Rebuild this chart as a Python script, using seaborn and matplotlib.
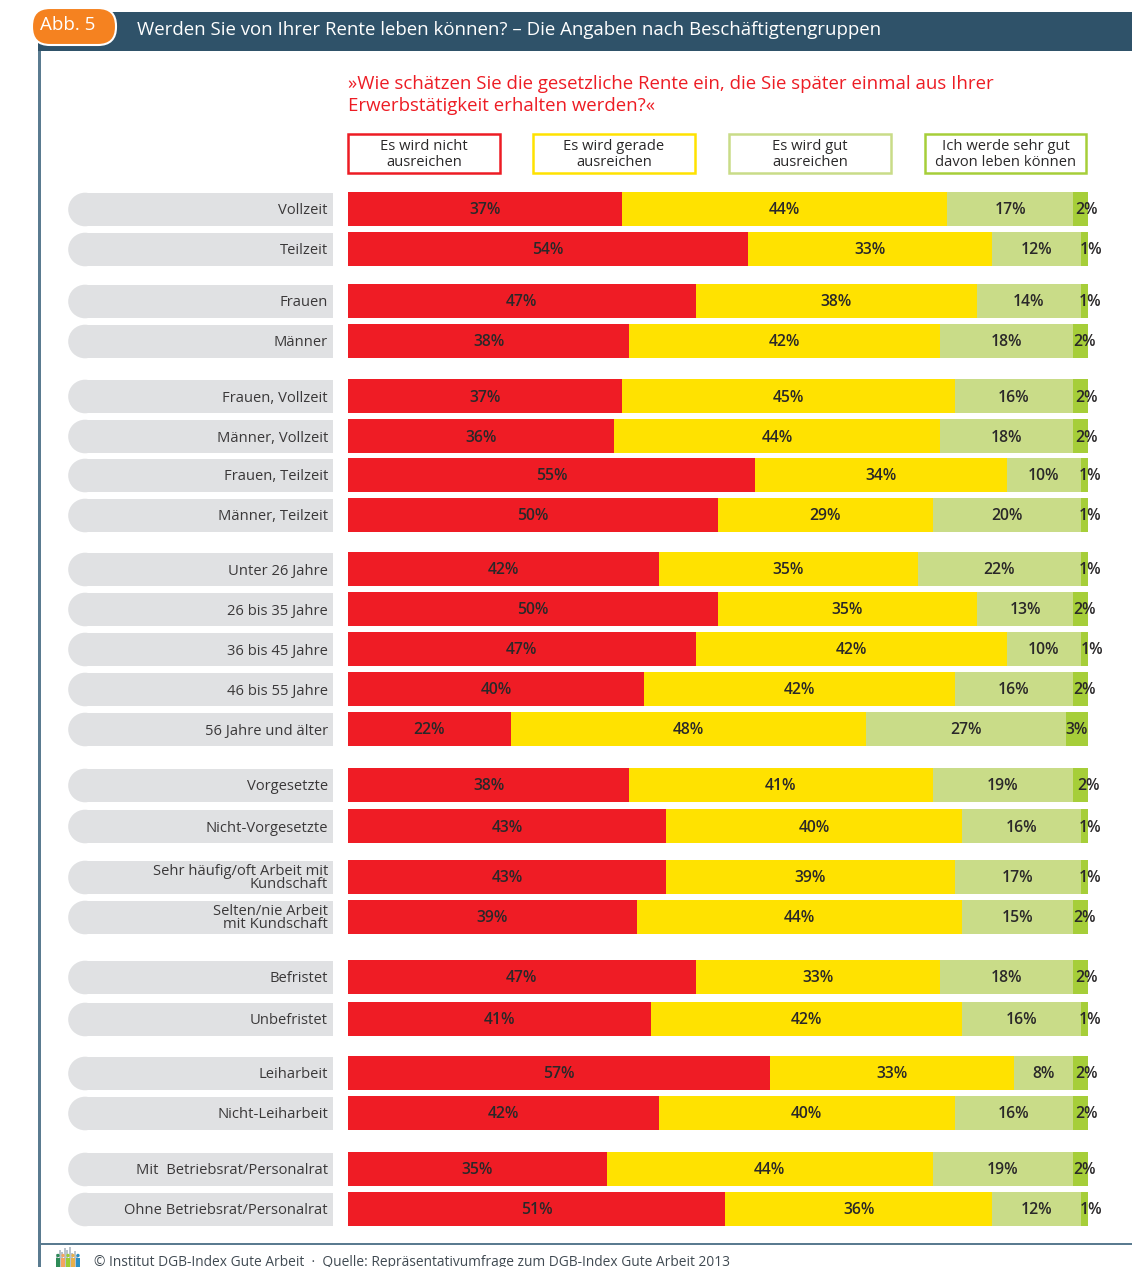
import numpy as np
import pandas as pd
import matplotlib
matplotlib.use("Agg")
import matplotlib.pyplot as plt
from matplotlib.patches import Rectangle, FancyBboxPatch, Circle
import seaborn as sns

FONT = "Open Sans"

categories = ["Vollzeit", "Teilzeit", "Frauen", "Männer", "Frauen, Vollzeit", "Männer, Vollzeit",
              "Frauen, Teilzeit", "Männer, Teilzeit", "Unter 26 Jahre", "26 bis 35 Jahre",
              "36 bis 45 Jahre", "46 bis 55 Jahre", "56 Jahre und älter", "Vorgesetzte",
              "Nicht-Vorgesetzte", "Sehr häufig/oft Arbeit mit\nKundschaft",
              "Selten/nie Arbeit\nmit Kundschaft", "Befristet", "Unbefristet", "Leiharbeit",
              "Nicht-Leiharbeit", "Mit  Betriebsrat/Personalrat", "Ohne Betriebsrat/Personalrat"]
nicht = [37, 54, 47, 38, 37, 36, 55, 50, 42, 50, 47, 40, 22, 38, 43, 43, 39, 47, 41, 57, 42, 35, 51]
gerade = [44, 33, 38, 42, 45, 44, 34, 29, 35, 35, 42, 42, 48, 41, 40, 39, 44, 33, 42, 33, 40, 44, 36]
gut = [17, 12, 14, 18, 16, 18, 10, 20, 22, 13, 10, 16, 27, 19, 16, 17, 15, 18, 16, 8, 16, 19, 12]
sehr_gut = [2, 1, 1, 2, 2, 2, 1, 1, 1, 2, 1, 2, 3, 2, 1, 1, 2, 2, 1, 2, 2, 2, 1]
legend_labels = ["Es wird nicht\nausreichen", "Es wird gerade\nausreichen",
                 "Es wird gut\nausreichen", "Ich werde sehr gut\ndavon leben können"]

# layout (pixels)
row_centers = [209, 249, 301, 341, 396, 436, 475, 515, 569, 609, 649, 689, 729,
               785, 826, 877, 917, 977, 1019, 1073, 1113, 1169, 1209]
last_label_px = [1087, 1091, 1090, 1084, 1086, 1086, 1090, 1090, 1090, 1085, 1092, 1084, 1077,
                 1088, 1090, 1090, 1084, 1087, 1090, 1086, 1087, 1085, 1091]
colors = ["#EF1C25", "#FFE200", "#C9DC88", "#A6CE39"]
INK = "#2A2829"
W, H = 1132, 1267
X0, PX_PER_100 = 348, 740
BAR_H = 34

sns.set_theme(style="white")
plt.rcParams["font.family"] = [FONT, "DejaVu Sans"]

fig = plt.figure(figsize=(W / 100, H / 100), dpi=100, facecolor="white")
bg = fig.add_axes([0, 0, 1, 1], zorder=0)
bg.set_xlim(0, W)
bg.set_ylim(H, 0)
bg.axis("off")

# frame and header
bg.add_patch(Rectangle((38, 48), 2.5, H - 48, color="#5A7B90", lw=0))
bg.add_patch(Rectangle((40, 1242.5), W - 40, 2, color="#5A7B90", lw=0))
bg.add_patch(Rectangle((38, 12), W - 38, 39, color="#2F5269", lw=0))
bg.add_patch(FancyBboxPatch((32, 8), 84, 37, boxstyle="round,pad=0,rounding_size=18",
                            fc="#F58220", ec="white", lw=1.5))
bg.text(67.5, 25.5, "Abb. 5", color="white", fontsize=13.5, ha="center", va="center")
bg.text(137, 30, "Werden Sie von Ihrer Rente leben können? – Die Angaben nach Beschäftigtengruppen",
        color="white", fontsize=13.4, ha="left", va="center")

# question
bg.text(348, 84, "»Wie schätzen Sie die gesetzliche Rente ein, die Sie später einmal aus Ihrer",
        color="#ED1C24", fontsize=13.45, ha="left", va="center")
bg.text(348, 106, "Erwerbstätigkeit erhalten werden?«", color="#ED1C24", fontsize=13.45,
        ha="left", va="center")

# legend
for (x1, x2), c, lab in zip([(348, 500), (533, 695), (729, 891), (925, 1086)],
                            ["#ED1C24", "#FFE200", "#C9DC88", "#A6CE39"], legend_labels):
    bg.add_patch(Rectangle((x1, 134), x2 - x1, 39, fc="white", ec=c, lw=1.8))
    a, b = lab.split("\n")
    bg.text((x1 + x2) / 2, 146.5, a, color=INK, fontsize=10.6, ha="center", va="center")
    bg.text((x1 + x2) / 2, 162.5, b, color=INK, fontsize=10.6, ha="center", va="center")

# pills
for yc in row_centers:
    bg.add_patch(Circle((85, yc + 0.5), 16.8, color="#E0E1E3", lw=0))
    bg.add_patch(Rectangle((85, yc - 16.3), 248, 33.6, color="#E0E1E3", lw=0))

# footer
for i, h in enumerate([13, 17, 15, 19, 17, 20, 14, 16, 12]):
    bg.add_patch(Rectangle((56 + i * 2.5, 1267 - h), 2, h, color="#B9C3CB", lw=0))
for x, c in zip([57, 62, 67, 72, 77], ["#2E8B57", "#F4A460", "#9ACD32", "#E8B04A", "#2A8FC4"]):
    bg.add_patch(Rectangle((x - 1, 1258), 4, 9, color=c, lw=0))
    bg.add_patch(Circle((x + 1, 1255.5), 1.7, color=c, lw=0))
bg.text(94, 1262, "© Institut DGB-Index Gute Arbeit  ·  Quelle: Repräsentativumfrage zum DGB-Index Gute Arbeit 2013",
        color="#404A52", fontsize=9.95, ha="left", va="center")

# stacked bars, drawn as overlaid cumulative layers
ax = fig.add_axes([X0 / W, 0, PX_PER_100 / W, 1], zorder=1)
ax.patch.set_alpha(0)
df = pd.DataFrame({"y": row_centers, "a": nicht, "b": gerade, "c": gut, "d": sehr_gut})
cum = df[["a", "b", "c", "d"]].cumsum(axis=1)
bar_width = BAR_H / np.diff(sorted(row_centers)).min()
for col, color in zip(["d", "c", "b", "a"], colors[::-1]):
    sns.barplot(x=cum[col], y=df["y"], orient="y", native_scale=True, color=color, saturation=1,
                width=bar_width, gap=0, errorbar=None, linewidth=0, ax=ax)
ax.set_xlim(0, 100)
ax.set_ylim(H, 0)
ax.set_xticks([])
ax.set_xlabel("")
ax.set_ylabel("")
ax.set_yticks(row_centers, categories, fontsize=10.6, color="#3A3839", linespacing=0.85)
ax.tick_params(axis="y", length=0, pad=14.4)
sns.despine(ax=ax, left=True, bottom=True)

# value labels
for i, yc in enumerate(row_centers):
    left = 0
    for col in ["a", "b", "c"]:
        v = df[col].iloc[i]
        ax.text(left + v / 2, yc + 1.5, f"{v}%", ha="center", va="center", color=INK,
                fontsize=11.3, fontweight="semibold")
        left += v
    end_x = (last_label_px[i] - X0) / PX_PER_100 * 100
    ax.text(end_x, yc + 1.5, f"{df['d'].iloc[i]}%", ha="center", va="center", color=INK,
            fontsize=11.3, fontweight="semibold", clip_on=False)

fig.savefig("out.png", dpi=100)
